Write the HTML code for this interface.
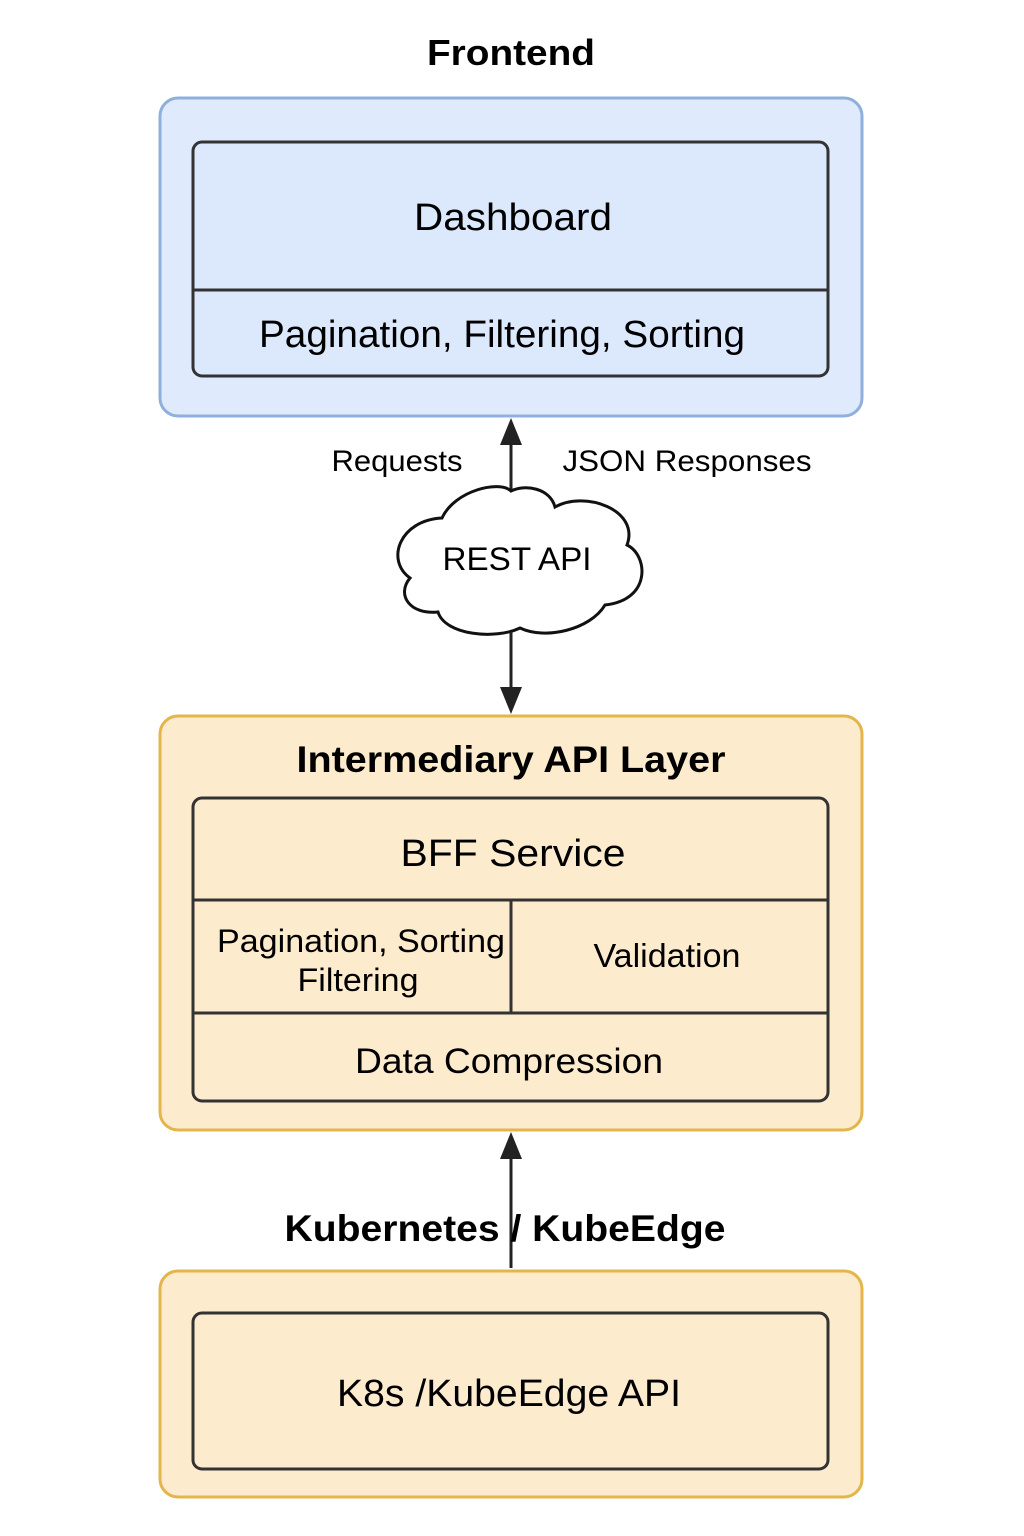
<!DOCTYPE html>
<html><head><meta charset="utf-8"><style>html,body{margin:0;padding:0;background:#fff}svg{display:block}</style></head>
<body>
<svg width="1024" height="1536" viewBox="0 0 1024 1536" xmlns="http://www.w3.org/2000/svg" font-family="Liberation Sans, Arial, sans-serif">
<text x="511" y="65" text-anchor="middle" font-size="36" font-weight="bold" fill="#000" textLength="168" lengthAdjust="spacingAndGlyphs">Frontend</text>
<rect x="160" y="98" width="702" height="318" rx="18" fill="#dfeafc" stroke="#8fb0dd" stroke-width="3"/>
<rect x="193" y="142" width="635" height="234" rx="9" fill="#dce8fb" stroke="#333" stroke-width="3"/>
<line x1="193" y1="290" x2="828" y2="290" stroke="#333" stroke-width="3"/>
<text x="513" y="230" text-anchor="middle" font-size="38" fill="#000" textLength="198" lengthAdjust="spacingAndGlyphs">Dashboard</text>
<text x="502" y="347" text-anchor="middle" font-size="38" fill="#000" textLength="486" lengthAdjust="spacingAndGlyphs">Pagination, Filtering, Sorting</text>

<line x1="511" y1="492" x2="511" y2="440" stroke="#222" stroke-width="3"/>
<polygon points="511,418 500,445 522,445" fill="#222"/>
<text x="397" y="471" text-anchor="middle" font-size="30" fill="#000" textLength="131" lengthAdjust="spacingAndGlyphs">Requests</text>
<text x="687" y="471" text-anchor="middle" font-size="30" fill="#000" textLength="249" lengthAdjust="spacingAndGlyphs">JSON Responses</text>

<path d="M442,518 C455,490 500,480 511,491 C525,484 550,488 555,507 C585,490 640,510 627,545 C648,555 652,600 605,605 C590,630 545,640 520,628 C495,640 445,635 438,612 C410,615 396,595 410,578 C385,560 400,520 442,518 Z" fill="#fff" stroke="#111" stroke-width="3"/>
<text x="517" y="570" text-anchor="middle" font-size="32" fill="#000" textLength="149" lengthAdjust="spacingAndGlyphs">REST API</text>

<line x1="511" y1="632" x2="511" y2="692" stroke="#222" stroke-width="3"/>
<polygon points="511,714 500,687 522,687" fill="#222"/>

<rect x="160" y="716" width="702" height="414" rx="18" fill="#fdebcd" stroke="#e4b54a" stroke-width="3"/>
<text x="511" y="772" text-anchor="middle" font-size="37" font-weight="bold" fill="#000" textLength="429" lengthAdjust="spacingAndGlyphs">Intermediary API Layer</text>
<rect x="193" y="798" width="635" height="303" rx="9" fill="#fdebcd" stroke="#333" stroke-width="3"/>
<line x1="193" y1="900" x2="828" y2="900" stroke="#333" stroke-width="3"/>
<line x1="193" y1="1013" x2="828" y2="1013" stroke="#333" stroke-width="3"/>
<line x1="511" y1="900" x2="511" y2="1013" stroke="#333" stroke-width="3"/>
<text x="513" y="866" text-anchor="middle" font-size="38" fill="#000" textLength="225" lengthAdjust="spacingAndGlyphs">BFF Service</text>
<text x="361" y="952" text-anchor="middle" font-size="32" fill="#000" textLength="288" lengthAdjust="spacingAndGlyphs">Pagination, Sorting</text>
<text x="358" y="991" text-anchor="middle" font-size="32" fill="#000" textLength="121" lengthAdjust="spacingAndGlyphs">Filtering</text>
<text x="667" y="967" text-anchor="middle" font-size="33" fill="#000" textLength="147" lengthAdjust="spacingAndGlyphs">Validation</text>
<text x="509" y="1073" text-anchor="middle" font-size="35" fill="#000" textLength="308" lengthAdjust="spacingAndGlyphs">Data Compression</text>

<line x1="511" y1="1268" x2="511" y2="1155" stroke="#222" stroke-width="3"/>
<polygon points="511,1132 500,1159 522,1159" fill="#222"/>
<text x="505" y="1241" text-anchor="middle" font-size="37" font-weight="bold" fill="#000" textLength="441" lengthAdjust="spacingAndGlyphs">Kubernetes / KubeEdge</text>

<rect x="160" y="1271" width="702" height="226" rx="18" fill="#fdebcd" stroke="#e4b54a" stroke-width="3"/>
<rect x="193" y="1313" width="635" height="156" rx="9" fill="#fdebcd" stroke="#333" stroke-width="3"/>
<text x="509" y="1406" text-anchor="middle" font-size="38" fill="#000" textLength="344" lengthAdjust="spacingAndGlyphs">K8s /KubeEdge API</text>
</svg>
</body></html>
